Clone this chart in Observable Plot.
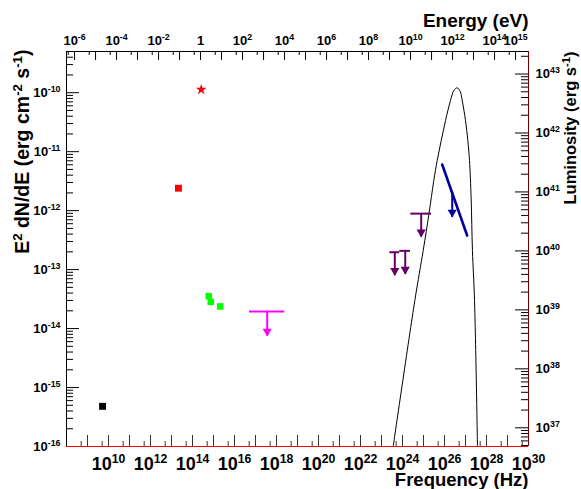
<!DOCTYPE html>
<html>
<head>
<meta charset="utf-8">
<script src="https://cdn.jsdelivr.net/npm/d3@7"></script>
<script src="https://cdn.jsdelivr.net/npm/@observablehq/plot@0.6"></script>
<style>
  html, body { margin: 0; padding: 0; background: #fff; }
  #chart svg { display: block; }
</style>
</head>
<body>
<div id="chart"></div>
<script>
// ---------- data ----------
// radio (black square)
const radioNu = [5.2e9];
const radioFlux = [4.8e-16];
// infrared (red square)
const irNu = [2.15e13];
const irFlux = [2.4e-12];
// optical (red star)
const optNu = [2.6e14];
const optFlux = [1.13e-10];
// UV (green squares)
const uvNu = [5.97e14, 7.4e14, 2.08e15];
const uvFlux = [3.54e-14, 2.84e-14, 2.37e-14];
// X-ray upper limit (magenta)
const xrayNu = [3.6e17];
const xrayNuLo = [5.18e16];
const xrayNuHi = [2.48e18];
const xrayFlux = [1.95e-14];
const xrayTip = [7.4e-15];
// GeV upper limits (purple)
const gevNu = [4.3e23, 1.35e24, 7.76e24];
const gevNuLo = [2.48e23, 7.43e23, 2.48e24];
const gevNuHi = [7.43e23, 2.4e24, 2.4e25];
const gevFlux = [1.97e-13, 2.08e-13, 8.9e-13];
const gevTip = [7.9e-14, 8.3e-14, 3.55e-13];
// TeV spectrum (blue line) and its limit arrow
const tevNu = [7.76e25, 1.2e27];
const tevFlux = [6.05e-12, 3.78e-13];
const tevUlNu = [2.33e26];
const tevUlFlux = [2.03e-12];
const tevUlTip = [7.7e-13];
// model curve (black line)
const modelNu = [3.6e23, 3.86e24, 9.68e24, 1.83e25, 3.09e25, 4.49e25, 6.97e25, 1.12e26, 1.93e26, 2.82e26, 4.03e26, 5.6e26, 6.97e26, 1.0e27, 1.29e27, 1.55e27, 1.86e27, 2.14e27, 2.69e27, 3.72e27];
const modelFlux = [1e-16, 2.99e-14, 2.11e-13, 8.93e-13, 3.24e-12, 7.08e-12, 1.55e-11, 3.38e-11, 7.38e-11, 1.1e-10, 1.21e-10, 1.05e-10, 7.38e-11, 3.38e-11, 1.55e-11, 7.08e-12, 1.58e-12, 2.11e-13, 2.99e-14, 1e-16];

// axes
const xDomain = [1e8, 1e30];
const yDomain = [1e-16, 5e-10];
const freqLabelExp = [10, 12, 14, 16, 18, 20, 22, 24, 26, 28, 30];
const energyLabelExp = [-6, -4, -2, 0, 2, 4, 6, 8, 10, 12, 14, 15];
const fluxLabelExp = [-16, -15, -14, -13, -12, -11, -10];
const lumLabelExp = [37, 38, 39, 40, 41, 42, 43];
const hPlanck = 4.135667e-15;           // eV s  (energy = h * frequency)
const lumFactor = Math.pow(10, 52.683); // luminosity / flux

// ---------- derived tick lists ----------
const inX = v => v >= xDomain[0] * 0.9999 && v <= xDomain[1] * 1.0001;
const inY = v => v >= yDomain[0] * 0.9999 && v <= yDomain[1] * 1.0001;
const freqMajor = d3.range(8, 31).map(n => 10 ** n).filter(inX);
const freqMinor = d3.range(7, 31).map(n => 5 * 10 ** n).filter(inX);
const enMajor = d3.range(-7, 17).map(n => 10 ** n / hPlanck).filter(inX);
const enMinor = d3.range(-8, 17).map(n => 5 * 10 ** n / hPlanck).filter(inX);
const fluxMajor = d3.range(-16, -8).map(n => 10 ** n).filter(inY);
const fluxMinor = d3.range(-17, -8).flatMap(n => d3.range(2, 10).map(k => k * 10 ** n)).filter(inY);
const lumMajor = d3.range(36, 45).map(n => 10 ** n / lumFactor).filter(inY);
const lumMinor = d3.range(35, 45).flatMap(n => d3.range(2, 10).map(k => k * 10 ** n / lumFactor)).filter(inY);

const pow = e => e === 0 ? "1" : `10^{${e}}`;

const pts = (nu, f) => nu.map((v, i) => ({nu: v, f: f[i]}));
const ul = (nu, lo, hi, f, tip) => nu.map((v, i) => ({nu: v, lo: lo ? lo[i] : v, hi: hi ? hi[i] : v, f: f[i], tip: tip[i]}));

const xray = ul(xrayNu, xrayNuLo, xrayNuHi, xrayFlux, xrayTip);
const gev = ul(gevNu, gevNuLo, gevNuHi, gevFlux, gevTip);
const tevUl = ul(tevUlNu, null, null, tevUlFlux, tevUlTip);

function ulMarks(data, color, withBar) {
  return [
    withBar ? Plot.ruleY(data, {y: "f", x1: "lo", x2: "hi", stroke: color, strokeWidth: 2}) : null,
    Plot.ruleX(data, {x: "nu", y1: "f", y2: "tip", stroke: color, strokeWidth: 2}),
    Plot.dot(data, {x: "nu", y: "tip", symbol: "triangle", rotate: 180, fill: color, r: 3.4, dy: -5})
  ];
}

// inward tick marks drawn as short rules anchored on the frame edges
const bottomTicks = (ticks, len) => Plot.ruleX(ticks, {x: d => d, y1: yDomain[0], y2: yDomain[0], insetTop: -len, stroke: "#333"});
const topTicks = (ticks, len) => Plot.ruleX(ticks, {x: d => d, y1: yDomain[1], y2: yDomain[1], insetBottom: -len, stroke: "#000"});
const leftTicks = (ticks, len) => Plot.ruleY(ticks, {y: d => d, x1: xDomain[0], x2: xDomain[0], insetRight: -len, stroke: "#000"});
const rightTicks = (ticks, len) => Plot.ruleY(ticks, {y: d => d, x1: xDomain[1], x2: xDomain[1], insetLeft: -len, stroke: "#000"});

const font = "'Liberation Sans', Arial, Helvetica, sans-serif";

const chart = Plot.plot({
  width: 581,
  height: 489,
  marginLeft: 66,
  marginRight: 53,
  marginTop: 51,
  marginBottom: 43,
  style: {fontFamily: font, fontWeight: "bold", background: "#fff", color: "#000"},
  x: {type: "log", domain: xDomain},
  y: {type: "log", domain: yDomain},
  marks: [
    // tick marks
    bottomTicks(freqMajor, 11),
    bottomTicks(freqMinor, 5),
    topTicks(enMajor, 9),
    topTicks(enMinor, 4),
    leftTicks(fluxMajor, 13),
    leftTicks(fluxMinor, 7),
    rightTicks(lumMajor, 13),
    rightTicks(lumMinor, 7),
    // tick labels
    Plot.axisX({anchor: "bottom", ticks: freqLabelExp.map(e => 10 ** e), tickSize: 0, tickPadding: 11, fontSize: 18, tickFormat: d => pow(Math.round(Math.log10(d))), label: null}),
    Plot.axisX({anchor: "top", ticks: energyLabelExp.map(e => 10 ** e / hPlanck), tickSize: 0, tickPadding: 7, fontSize: 13, tickFormat: d => pow(Math.round(Math.log10(d * hPlanck))), label: null}),
    Plot.axisY({anchor: "left", ticks: fluxLabelExp.map(e => 10 ** e), tickSize: 0, tickPadding: 6, fontSize: 13, tickFormat: d => pow(Math.round(Math.log10(d))), label: null}),
    Plot.text(lumLabelExp, {y: e => 10 ** e / lumFactor, text: e => pow(e), frameAnchor: "right", textAnchor: "start", dx: 7, fontSize: 13}),
    // frame
    Plot.ruleX([xDomain[0]], {stroke: "#000"}),
    Plot.ruleY([yDomain[1]], {stroke: "#000"}),
    Plot.ruleX([xDomain[1]], {stroke: "#7a0000"}),
    Plot.ruleY([yDomain[0]], {stroke: "#ff0000"}),
    // model curve
    Plot.line(pts(modelNu, modelFlux), {x: "nu", y: "f", stroke: "#000", strokeWidth: 1, curve: "catmull-rom", clip: true}),
    // data
    Plot.dot(pts(radioNu, radioFlux), {x: "nu", y: "f", symbol: "square", fill: "#000", r: 3.9}),
    Plot.dot(pts(irNu, irFlux), {x: "nu", y: "f", symbol: "square", fill: "#ff0000", r: 3.9}),
    Plot.dot(pts(optNu, optFlux), {x: "nu", y: "f", symbol: "star", fill: "#ff0000", r: 3.4}),
    Plot.dot(pts(uvNu, uvFlux), {x: "nu", y: "f", symbol: "square", fill: "#00ff00", r: 3.7}),
    ...ulMarks(xray, "#ff00ff", true),
    ...ulMarks(gev, "#660066", true),
    Plot.line(pts(tevNu, tevFlux), {x: "nu", y: "f", stroke: "#0000a0", strokeWidth: 2.6}),
    ...ulMarks(tevUl, "#0000a0", false),
    // titles
    Plot.text(["Energy (eV)"], {text: d => d, frameAnchor: "top-right", textAnchor: "end", fontSize: 19, dy: -38}),
    Plot.text(["Frequency (Hz)"], {text: d => d, frameAnchor: "bottom-right", textAnchor: "end", fontSize: 18.5, dy: 39}),
    Plot.text(["E^{2} dN/dE (erg cm^{-2} s^{-1})"], {text: d => d, frameAnchor: "top-left", textAnchor: "end", rotate: -90, fontSize: 19.5, dx: -51, dy: -2}),
    Plot.text(["Luminosity (erg s^{-1})"], {text: d => d, frameAnchor: "top-right", textAnchor: "end", rotate: -90, fontSize: 16.5, dx: 36})
  ]
});

// superscripts: turn "a^{b}" into tspans
d3.select(chart).selectAll("text").each(function () {
  const t = this.textContent;
  if (!t.includes("^{")) return;
  const parts = t.split(/\^\{([^}]*)\}/);
  const sel = d3.select(this);
  sel.text(null);
  parts.forEach((p, i) => {
    if (p === "") return;
    const ts = sel.append("tspan").text(p);
    if (i % 2 === 1) ts.attr("baseline-shift", "super").style("font-size", "0.68em");
  });
});

document.getElementById("chart").appendChild(chart);
</script>
</body>
</html>
